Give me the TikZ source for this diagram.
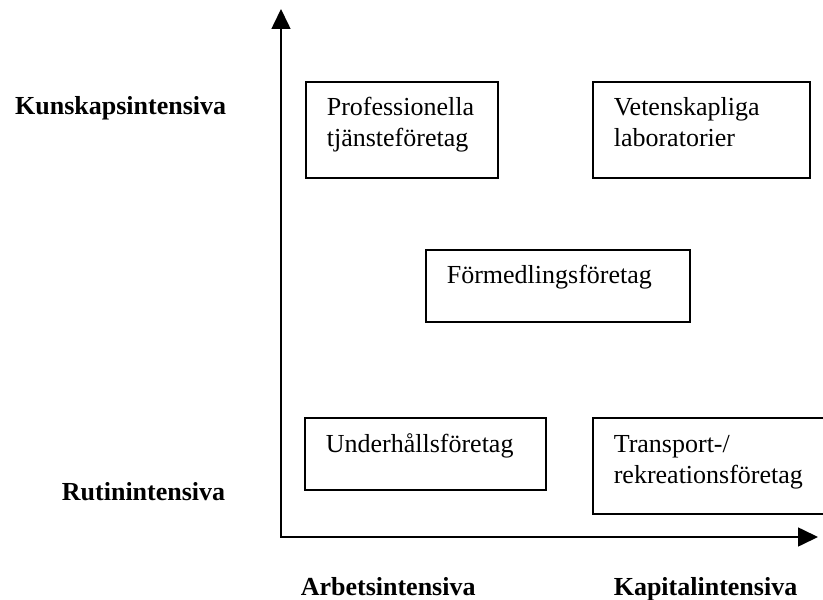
\documentclass[tikz,border=0pt]{standalone}
\usepackage{fontspec}
\setmainfont{Liberation Serif}
\usetikzlibrary{arrows.meta}
\hyphenpenalty=10000

\begin{document}
\begin{tikzpicture}[x=1bp, y=-1bp, line width=1.6bp,
                    type node/.style={draw, anchor=north west, align=left, inner xsep=21bp, inner ysep=0pt,
                                      text height=34bp, font=\fontsize{26bp}{31bp}\selectfont},
                    axis label/.style={inner sep=0pt, font=\fontsize{26bp}{31bp}\selectfont\bfseries},
                    axis tip/.style={{Triangle[length=20bp,width=19bp]}-{Triangle[length=20bp,width=19bp]}}]

  \clip (0,0) rectangle (823,600);

  \node[type node, text width=150bp, text depth=62bp] (prof) at (305,81) {Professionella\\tjänsteföretag};
  \node[type node, text width=175bp, text depth=62bp] (vet) at (592,81) {Vetenskapliga\\laboratorier};
  \node[type node, text width=222bp, text depth=38bp] (form) at (425,249) {Förmedlingsföretag};
  \node[type node, text width=199bp, text depth=37bp, text height=35bp] (under) at (304,417) {Underhållsföretag};
  \node[type node, text width=210bp, text depth=61bp, text height=35bp] (trans) at (592,417) {Transport-/\\rekreationsföretag};

  \node[axis label, anchor=base east] (kun) at (227,115) {Kunskapsintensiva};
  \node[axis label, anchor=base east] (rut) at (226,500) {Rutinintensiva};
  \node[axis label, anchor=base west] (arb) at (300,595) {Arbetsintensiva};
  \node[axis label, anchor=base west] (kap) at (613,595) {Kapitalintensiva};

  \coordinate (yend) at (281,9);
  \coordinate (origin) at (281,537);
  \coordinate (xend) at (818,537);
  \draw[axis tip] (yend) -- (origin) -- (xend);

\end{tikzpicture}
\end{document}
